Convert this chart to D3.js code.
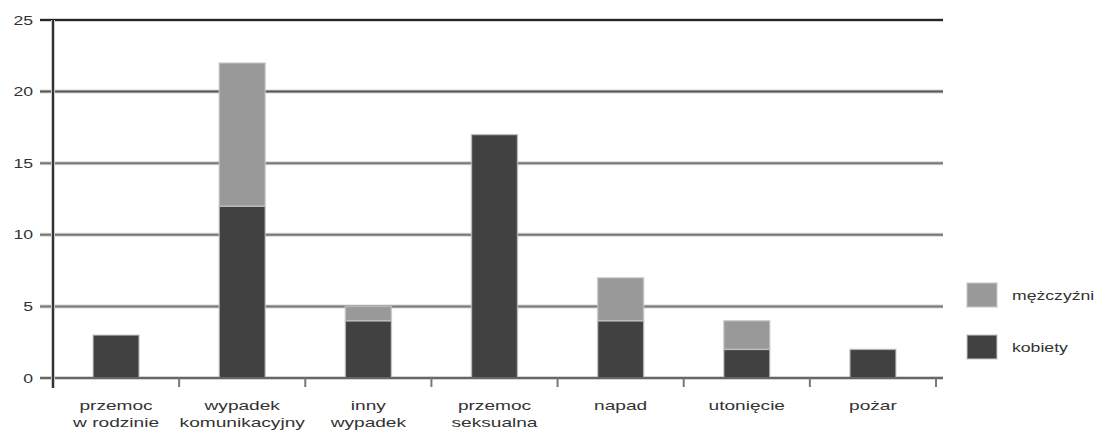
<!DOCTYPE html>
<html>
<head>
<meta charset="utf-8">
<script src="https://cdn.jsdelivr.net/npm/d3@7/dist/d3.min.js"></script>
<style>
  html, body { margin: 0; padding: 0; background: #fff; }
  svg { display: block; }
  text { font-family: "Liberation Sans", Arial, sans-serif; fill: #333; }
</style>
</head>
<body>
<svg id="chart" width="1098" height="432"></svg>
<script>
// Categories (two-line labels)
const categories = ["przemoc w rodzinie", "wypadek komunikacyjny", "inny wypadek",
                    "przemoc seksualna", "napad", "utonięcie", "pożar"];
const categoryLines = [["przemoc", "w rodzinie"], ["wypadek", "komunikacyjny"], ["inny", "wypadek"],
                       ["przemoc", "seksualna"], ["napad"], ["utonięcie"], ["pożar"]];

// Series values
const kobiety    = [3, 12, 4, 17, 4, 2, 2];
const mezczyzni  = [0, 10, 1,  0, 3, 2, 0];

const seriesNames  = ["kobiety", "mężczyźni"];
const seriesColors = ["#414141", "#999999"];

// Tick labels on the value axis
const yTicks = [0, 5, 10, 15, 20, 25];

const rows = categories.map((c, i) => ({ cat: c, kobiety: kobiety[i], "mężczyźni": mezczyzni[i] }));
const stacked = d3.stack().keys(seriesNames)(rows);

const svg = d3.select("#chart");
const stretch = 1.47; // horizontal text stretch

const x = d3.scaleBand().domain(categories).range([53, 936]).padding(0);
const y = d3.scaleLinear().domain([0, 25]).range([378, 20]);
const barW = x.bandwidth() * 0.365;

// Gridlines
const grid = svg.append("g");
grid.selectAll("line.halo").data(yTicks).join("line")
  .attr("x1", 40).attr("x2", 943)
  .attr("y1", d => y(d)).attr("y2", d => y(d))
  .attr("stroke", "#d4d4d4").attr("stroke-width", 4);
grid.selectAll("line.core").data(yTicks).join("line")
  .attr("x1", 40).attr("x2", 943)
  .attr("y1", d => y(d)).attr("y2", d => y(d))
  .attr("stroke", d => d === 25 ? "#262626" : (d === 20 ? "#555" : "#777"))
  .attr("stroke-width", 2);

// Y tick labels
svg.append("g").selectAll("text").data(yTicks).join("text")
  .attr("transform", d => `translate(33,${y(d) + 4.5}) scale(${stretch},1)`)
  .attr("text-anchor", "end")
  .attr("font-size", 12)
  .text(d => d);

// Bars
svg.append("g").selectAll("g").data(stacked).join("g")
  .attr("fill", (d, i) => seriesColors[i])
  .selectAll("rect").data(d => d.filter(s => s[1] - s[0] > 0)).join("rect")
  .attr("x", d => x(d.data.cat) + (x.bandwidth() - barW) / 2)
  .attr("y", d => y(d[1]))
  .attr("width", barW)
  .attr("height", d => y(d[0]) - y(d[1]))
  .attr("stroke", "rgba(200,200,200,0.7)")
  .attr("stroke-width", 1.5);

// Redraw the baseline over the bar bottoms
svg.append("line")
  .attr("x1", 40).attr("x2", 943)
  .attr("y1", y(0)).attr("y2", y(0))
  .attr("stroke", "#666").attr("stroke-width", 2);

// Category boundary ticks
const bounds = categories.map(c => x(c)).concat([x.range()[1]]);
svg.append("g").selectAll("line").data(bounds.slice(1)).join("line")
  .attr("x1", d => d).attr("x2", d => d)
  .attr("y1", y(0)).attr("y2", y(0) + 9)
  .attr("stroke", "#777").attr("stroke-width", 2);

// Y axis line
svg.append("line")
  .attr("x1", 53).attr("x2", 53)
  .attr("y1", y(25)).attr("y2", y(0) + 10)
  .attr("stroke", "#c8c8c8").attr("stroke-width", 4);
svg.append("line")
  .attr("x1", 53).attr("x2", 53)
  .attr("y1", y(25)).attr("y2", y(0) + 10)
  .attr("stroke", "#333").attr("stroke-width", 2);

// Category labels
const lab = svg.append("g").selectAll("g").data(categories).join("g");
lab.each(function(c, i) {
  const cx = x(c) + x.bandwidth() / 2;
  d3.select(this).selectAll("text").data(categoryLines[i]).join("text")
    .attr("transform", (t, j) => `translate(${cx},${410 + j * 17}) scale(${stretch},1)`)
    .attr("text-anchor", "middle")
    .attr("font-size", 13)
    .text(t => t);
});

// Legend
const legendItems = [
  { name: seriesNames[1], color: seriesColors[1], y: 283 },
  { name: seriesNames[0], color: seriesColors[0], y: 335 }
];
const lg = svg.append("g").selectAll("g").data(legendItems).join("g");
lg.append("rect")
  .attr("x", 967).attr("y", d => d.y)
  .attr("width", 30).attr("height", 24)
  .attr("fill", d => d.color)
  .attr("stroke", "rgba(200,200,200,0.7)").attr("stroke-width", 1.5);
lg.append("text")
  .attr("transform", d => `translate(1012,${d.y + 17}) scale(${stretch},1)`)
  .attr("font-size", 12)
  .text(d => d.name);
</script>
</body>
</html>
